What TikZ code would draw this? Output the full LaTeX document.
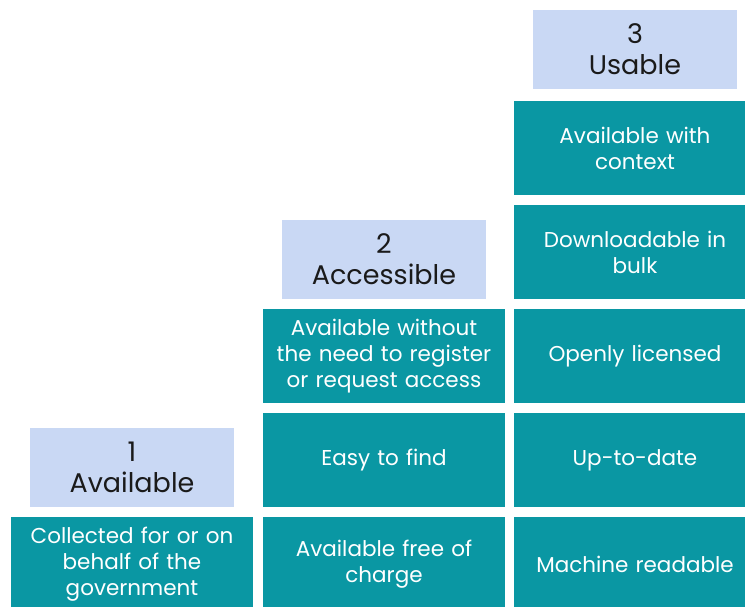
\documentclass[tikz,border=0pt]{standalone}
\usepackage{fontspec}
\setmainfont{Poppins}
\definecolor{tealc}{HTML}{0A97A3}
\definecolor{headc}{HTML}{C9D8F4}
\definecolor{htext}{HTML}{1A1A1A}
\begin{document}
\begin{tikzpicture}[x=1pt,y=-1pt,
  cell/.style={fill=tealc, text=white, minimum width=242pt, minimum height=94pt, inner sep=0pt,
    align=center, font=\fontsize{21.5}{26}\selectfont, text width=238pt},
  head/.style={fill=headc, text=htext, minimum width=204pt, minimum height=79pt, inner sep=0pt,
    align=center, font=\fontsize{27}{31}\selectfont}]
\useasboundingbox (0,0) rectangle (745,607);
\clip (0,0) rectangle (745,607);
% column 1
\node[head] (h1) at (132,467.5) {1\\Available};
\node[cell] (c1a) at (132,564) {Collected for or on\\behalf of the\\government};
% column 2
\node[head] (h2) at (384,259.5) {2\\Accessible};
\node[cell] (c2a) at (384,356) {Available without\\the need to register\\or request access};
\node[cell] (c2b) at (384,460) {Easy to find};
\node[cell] (c2c) at (384,564) {Available free of\\charge};
% column 3
\node[head] (h3) at (635,49.5) {3\\Usable};
\node[cell] (c3a) at (635,148) {Available with\\context};
\node[cell] (c3b) at (635,252) {Downloadable in\\bulk};
\node[cell] (c3c) at (635,356) {Openly licensed};
\node[cell] (c3d) at (635,460) {Up-to-date};
\node[cell] (c3e) at (635,564) {Machine readable};
\end{tikzpicture}
\end{document}
